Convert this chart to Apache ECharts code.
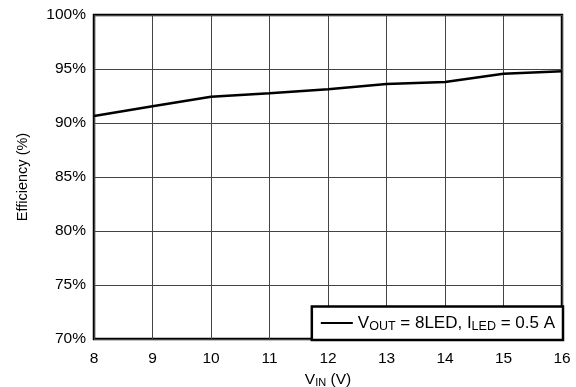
<!DOCTYPE html>
<html>
<head>
<meta charset="utf-8">
<script src="https://cdn.jsdelivr.net/npm/echarts@6/dist/echarts.min.js"></script>
<style>
  html, body { margin: 0; padding: 0; background: #fff; }
  #chart { width: 576px; height: 387px; }
</style>
</head>
<body>
<div id="chart"></div>
<script>
// Input voltage (V) and measured efficiency (%)
const vin = [8, 9, 10, 11, 12, 13, 14, 15, 16];
const efficiency = [90.64, 91.56, 92.43, 92.76, 93.13, 93.6, 93.8, 94.55, 94.8];
const seriesName = 'vout8led';

const font = 'Liberation Sans, Arial, sans-serif';
const chart = echarts.init(document.getElementById('chart'), null, { renderer: 'canvas' });

chart.setOption({
  animation: false,
  backgroundColor: '#fff',
  grid: {
    left: 94, top: 15, right: 14, bottom: 48,
    outerBoundsMode: 'none', containLabel: false,
    show: true, borderColor: '#000', borderWidth: 2.5, backgroundColor: 'transparent'
  },
  xAxis: {
    type: 'value', min: 8, max: 16, interval: 1,
    axisLine: { show: false },
    axisTick: { show: false },
    splitLine: { show: true, lineStyle: { color: '#444', width: 1 } },
    axisLabel: { color: '#000', fontFamily: font, fontSize: 15.5, margin: 12 },
    name: '{n|V}{s|IN}{n| (V)}',
    nameLocation: 'middle', nameGap: 31,
    nameTextStyle: {
      color: '#000', fontFamily: font, fontSize: 15.5,
      rich: {
        n: { fontFamily: font, fontSize: 15.5, color: '#000' },
        s: { fontFamily: font, fontSize: 11, color: '#000', padding: [6, 0, 0, 0] }
      }
    }
  },
  yAxis: {
    type: 'value', min: 70, max: 100, interval: 5,
    axisLine: { show: false },
    axisTick: { show: false },
    splitLine: { show: true, lineStyle: { color: '#444', width: 1 } },
    axisLabel: { color: '#000', fontFamily: font, fontSize: 15.5, margin: 8, formatter: '{value}%' },
    name: 'Efficiency (%)',
    nameLocation: 'middle', nameGap: 64,
    nameTextStyle: { color: '#000', fontFamily: font, fontSize: 14.5 }
  },
  legend: {
    right: 13, bottom: 47,
    orient: 'vertical',
    backgroundColor: '#fff', borderColor: '#000', borderWidth: 2.5,
    padding: [8, 8, 7, 9],
    itemWidth: 32, itemHeight: 2, itemGap: 0,
    icon: 'rect',
    formatter: function () {
      return '{n|V}{s|OUT}{n| = 8LED, I}{s|LED}{n| = 0.5 A}';
    },
    textStyle: {
      color: '#000', fontFamily: font, fontSize: 17,
      rich: {
        n: { fontFamily: font, fontSize: 17, color: '#000' },
        s: { fontFamily: font, fontSize: 12.5, color: '#000', padding: [7, 0, 0, 0] }
      }
    },
    data: [seriesName]
  },
  series: [{
    name: seriesName,
    type: 'line',
    data: vin.map((v, i) => [v, efficiency[i]]),
    showSymbol: false,
    lineStyle: { color: '#000', width: 2.5 },
    itemStyle: { color: '#000' }
  }]
});
</script>
</body>
</html>
